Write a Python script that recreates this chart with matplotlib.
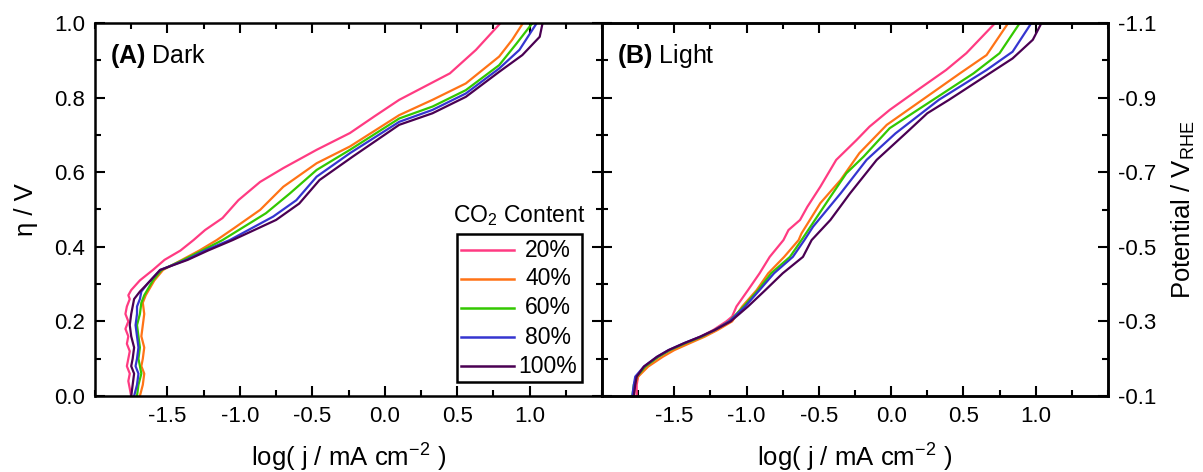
"""Tafel plots, dark vs light, for five CO2 contents."""
import matplotlib
matplotlib.use('Agg')
import matplotlib.pyplot as plt
from matplotlib.patches import Rectangle
from matplotlib.ticker import MultipleLocator, FixedLocator, FormatStrFormatter

plt.rcParams['font.family'] = ['Liberation Sans', 'DejaVu Sans']
plt.rcParams['mathtext.fontset'] = 'custom'
plt.rcParams['mathtext.rm'] = 'Liberation Sans'
plt.rcParams['mathtext.it'] = 'Liberation Sans:italic'
plt.rcParams['mathtext.bf'] = 'Liberation Sans:bold'
plt.rcParams['axes.unicode_minus'] = False

LABELS = ['20%', '40%', '60%', '80%', '100%']
COLORS = ['#ff3b82', '#ff7316', '#33c800', '#3535d0', '#4a0052']

# ---- (A) Dark: overpotential (V) vs log(j)
dark_eta_20 = [0.0, 0.02, 0.04, 0.06, 0.08, 0.10, 0.12, 0.14, 0.16, 0.18, 0.20, 0.22, 0.24, 0.26,
               0.27, 0.284, 0.31, 0.338, 0.365, 0.39, 0.418, 0.445, 0.477, 0.525, 0.574, 0.611,
               0.66, 0.705, 0.75, 0.794, 0.865, 0.928, 1.0]
dark_logj_20 = [-1.75, -1.76, -1.77, -1.76, -1.78, -1.77, -1.76, -1.78, -1.77, -1.79, -1.77, -1.79,
                -1.78, -1.76, -1.77, -1.75, -1.69, -1.60, -1.52, -1.41, -1.32, -1.24, -1.12, -1.01,
                -0.86, -0.70, -0.47, -0.24, -0.07, 0.10, 0.45, 0.63, 0.80]
dark_eta_40 = [0.0, 0.03, 0.06, 0.08, 0.10, 0.13, 0.16, 0.19, 0.22, 0.25, 0.27, 0.29, 0.31, 0.338,
               0.365, 0.39, 0.418, 0.45, 0.499, 0.561, 0.624, 0.669, 0.753, 0.794, 0.838, 0.91,
               0.955, 1.0]
dark_logj_40 = [-1.69, -1.67, -1.66, -1.68, -1.67, -1.66, -1.68, -1.67, -1.66, -1.67, -1.65, -1.62,
                -1.59, -1.53, -1.40, -1.28, -1.16, -1.04, -0.86, -0.70, -0.47, -0.24, 0.10, 0.33,
                0.56, 0.79, 0.88, 0.955]
dark_eta_60 = [0.0, 0.03, 0.06, 0.08, 0.10, 0.13, 0.16, 0.19, 0.22, 0.25, 0.27, 0.29, 0.31, 0.338,
               0.365, 0.39, 0.418, 0.49, 0.543, 0.606, 0.66, 0.744, 0.776, 0.82, 0.887, 0.945, 1.0]
dark_logj_60 = [-1.71, -1.70, -1.68, -1.69, -1.70, -1.69, -1.70, -1.71, -1.69, -1.68, -1.66, -1.63,
                -1.60, -1.54, -1.39, -1.26, -1.12, -0.82, -0.655, -0.47, -0.24, 0.10, 0.33, 0.56,
                0.79, 0.91, 1.02]
dark_eta_80 = [0.0, 0.03, 0.06, 0.08, 0.10, 0.13, 0.16, 0.19, 0.22, 0.24, 0.26, 0.28, 0.30, 0.338,
               0.365, 0.39, 0.418, 0.481, 0.525, 0.588, 0.651, 0.735, 0.767, 0.811, 0.878, 0.928, 1.0]
dark_logj_80 = [-1.73, -1.71, -1.70, -1.72, -1.71, -1.70, -1.71, -1.72, -1.71, -1.71, -1.69, -1.68,
                -1.64, -1.55, -1.37, -1.24, -1.07, -0.77, -0.61, -0.47, -0.24, 0.10, 0.33, 0.56,
                0.79, 0.93, 1.05]
dark_eta_100 = [0.0, 0.03, 0.06, 0.08, 0.10, 0.13, 0.16, 0.19, 0.22, 0.24, 0.26, 0.28, 0.30, 0.338,
                0.365, 0.39, 0.418, 0.472, 0.516, 0.579, 0.642, 0.727, 0.758, 0.802, 0.869, 0.914,
                0.963, 1.0]
dark_logj_100 = [-1.75, -1.74, -1.73, -1.75, -1.74, -1.73, -1.75, -1.76, -1.75, -1.74, -1.73, -1.69,
                 -1.64, -1.55, -1.36, -1.22, -1.05, -0.75, -0.59, -0.45, -0.22, 0.10, 0.33, 0.56,
                 0.79, 0.95, 1.07, 1.09]

# ---- (B) Light
light_eta_20 = [0.0, 0.03, 0.052, 0.079, 0.105, 0.123, 0.142, 0.159, 0.177, 0.2, 0.213, 0.24,
                0.284, 0.329, 0.373, 0.418, 0.445, 0.472, 0.507, 0.561, 0.633, 0.686, 0.722,
                0.767, 0.825, 0.874, 0.919, 1.0]
light_logj_20 = [-1.76, -1.76, -1.75, -1.70, -1.61, -1.53, -1.42, -1.32, -1.23, -1.14, -1.10, -1.07,
                 -0.99, -0.91, -0.84, -0.745, -0.71, -0.63, -0.58, -0.49, -0.38, -0.24, -0.15,
                 -0.01, 0.20, 0.38, 0.52, 0.72]
light_eta_40 = [0.0, 0.03, 0.052, 0.079, 0.105, 0.123, 0.142, 0.159, 0.177, 0.2, 0.24, 0.284,
                0.329, 0.373, 0.418, 0.436, 0.517, 0.579, 0.651, 0.727, 0.802, 0.865, 0.914, 1.0]
light_logj_40 = [-1.78, -1.77, -1.75, -1.68, -1.58, -1.50, -1.39, -1.29, -1.20, -1.10, -1.03, -0.93,
                 -0.85, -0.74, -0.64, -0.62, -0.49, -0.35, -0.22, -0.03, 0.245, 0.476, 0.66, 0.81]
light_eta_60 = [0.0, 0.03, 0.052, 0.079, 0.105, 0.123, 0.142, 0.159, 0.177, 0.2, 0.24, 0.284,
                0.329, 0.373, 0.418, 0.534, 0.597, 0.642, 0.718, 0.794, 0.865, 0.919, 1.0]
light_logj_60 = [-1.79, -1.78, -1.76, -1.70, -1.61, -1.53, -1.42, -1.31, -1.22, -1.12, -1.02, -0.92,
                 -0.83, -0.70, -0.62, -0.42, -0.31, -0.19, -0.01, 0.29, 0.57, 0.75, 0.89]
light_eta_80 = [0.0, 0.03, 0.052, 0.079, 0.105, 0.123, 0.142, 0.159, 0.177, 0.2, 0.24, 0.284,
                0.329, 0.373, 0.418, 0.454, 0.543, 0.633, 0.704, 0.794, 0.874, 0.923, 1.0]
light_logj_80 = [-1.79, -1.78, -1.77, -1.71, -1.62, -1.54, -1.43, -1.32, -1.22, -1.12, -1.01, -0.91,
                 -0.81, -0.68, -0.60, -0.54, -0.35, -0.17, 0.03, 0.33, 0.66, 0.84, 0.97]
light_eta_100 = [0.0, 0.03, 0.052, 0.079, 0.105, 0.123, 0.142, 0.159, 0.177, 0.2, 0.24, 0.284,
                 0.329, 0.373, 0.418, 0.472, 0.543, 0.633, 0.704, 0.758, 0.794, 0.847, 0.905,
                 0.955, 1.0]
light_logj_100 = [-1.78, -1.77, -1.76, -1.71, -1.62, -1.54, -1.43, -1.32, -1.22, -1.11, -0.99, -0.87,
                  -0.75, -0.61, -0.55, -0.42, -0.285, -0.10, 0.10, 0.25, 0.40, 0.61, 0.84, 0.98, 1.04]

DARK = [(dark_logj_20, dark_eta_20), (dark_logj_40, dark_eta_40), (dark_logj_60, dark_eta_60),
        (dark_logj_80, dark_eta_80), (dark_logj_100, dark_eta_100)]
LIGHT = [(light_logj_20, light_eta_20), (light_logj_40, light_eta_40), (light_logj_60, light_eta_60),
         (light_logj_80, light_eta_80), (light_logj_100, light_eta_100)]

POT_TICKS = [-1.1, -0.9, -0.7, -0.5, -0.3, -0.1]
POT_MINOR = [-1.0, -0.8, -0.6, -0.4, -0.2]

FS = 16
LFS = 18.5
fig = plt.figure(figsize=(12.03, 4.72), dpi=100)
ax_a = fig.add_axes([95 / 1203, 76 / 472, 507 / 1203, 373 / 472])
ax_b = fig.add_axes([602 / 1203, 76 / 472, 506 / 1203, 373 / 472])


def ticks(ax):
    ax.tick_params(which='both', direction='in', width=1.5, labelsize=FS, pad=7)
    ax.tick_params(which='major', length=7)
    ax.tick_params(which='minor', length=4)
    for sp in ax.spines.values():
        sp.set_linewidth(1.8)


def style(ax):
    ax.set_xlim(-2.0, 1.5)
    ax.set_ylim(0.0, 1.0)
    ax.set_xticks([-1.5, -1.0, -0.5, 0.0, 0.5, 1.0])
    ax.xaxis.set_minor_locator(MultipleLocator(0.25))
    ax.yaxis.set_major_locator(MultipleLocator(0.2))
    ax.yaxis.set_minor_locator(MultipleLocator(0.1))
    ax.xaxis.set_major_formatter(FormatStrFormatter('%.1f'))
    ax.yaxis.set_major_formatter(FormatStrFormatter('%.1f'))
    ax.tick_params(which='both', top=True, right=True)
    ticks(ax)
    ax.set_xlabel('log( j / mA cm$^{-2}$ )', fontsize=LFS, labelpad=11)


for ax, series in ((ax_a, DARK), (ax_b, LIGHT)):
    for (x, y), c, lab in zip(series, COLORS, LABELS):
        ax.plot(x, y, color=c, lw=1.6, label=lab)
    style(ax)

ax_a.set_ylabel('η / V', fontsize=LFS, labelpad=12)
ax_b.tick_params(labelleft=False, right=False)

# right-hand potential scale for panel B
ax_r = ax_b.twinx()
ax_r.set_ylim(-0.1, -1.1)
ax_r.yaxis.set_major_locator(FixedLocator(POT_TICKS))
ax_r.yaxis.set_minor_locator(FixedLocator(POT_MINOR))
ax_r.yaxis.set_major_formatter(FormatStrFormatter('%.1f'))
ticks(ax_r)
ax_r.set_ylabel('Potential / V$_{\\mathrm{RHE}}$', fontsize=LFS, labelpad=10)

ax_a.text(0.03, 0.948, r'$\bf{(A)}$ Dark', transform=ax_a.transAxes, fontsize=18, va='top')
ax_b.text(0.03, 0.948, r'$\bf{(B)}$ Light', transform=ax_b.transAxes, fontsize=18, va='top')

# legend drawn by hand: title sits above the frame, labels centred
ax_a.text(0.836, 0.483, 'CO$_2$ Content', transform=ax_a.transAxes, fontsize=16.5,
          ha='center', va='center')
ax_a.add_patch(Rectangle((0.714, 0.038), 0.2466, 0.396, transform=ax_a.transAxes,
                         fill=False, edgecolor='black', linewidth=1.8, zorder=5))
row_y = [0.391, 0.315, 0.236, 0.158, 0.080]
for yy, c, lab in zip(row_y, COLORS, LABELS):
    ax_a.plot([0.722, 0.826], [yy, yy], color=c, lw=1.8, transform=ax_a.transAxes)
    ax_a.text(0.8935, yy, lab, transform=ax_a.transAxes, fontsize=16.5,
              ha='center', va='center')

fig.savefig('out.png', dpi=100)
